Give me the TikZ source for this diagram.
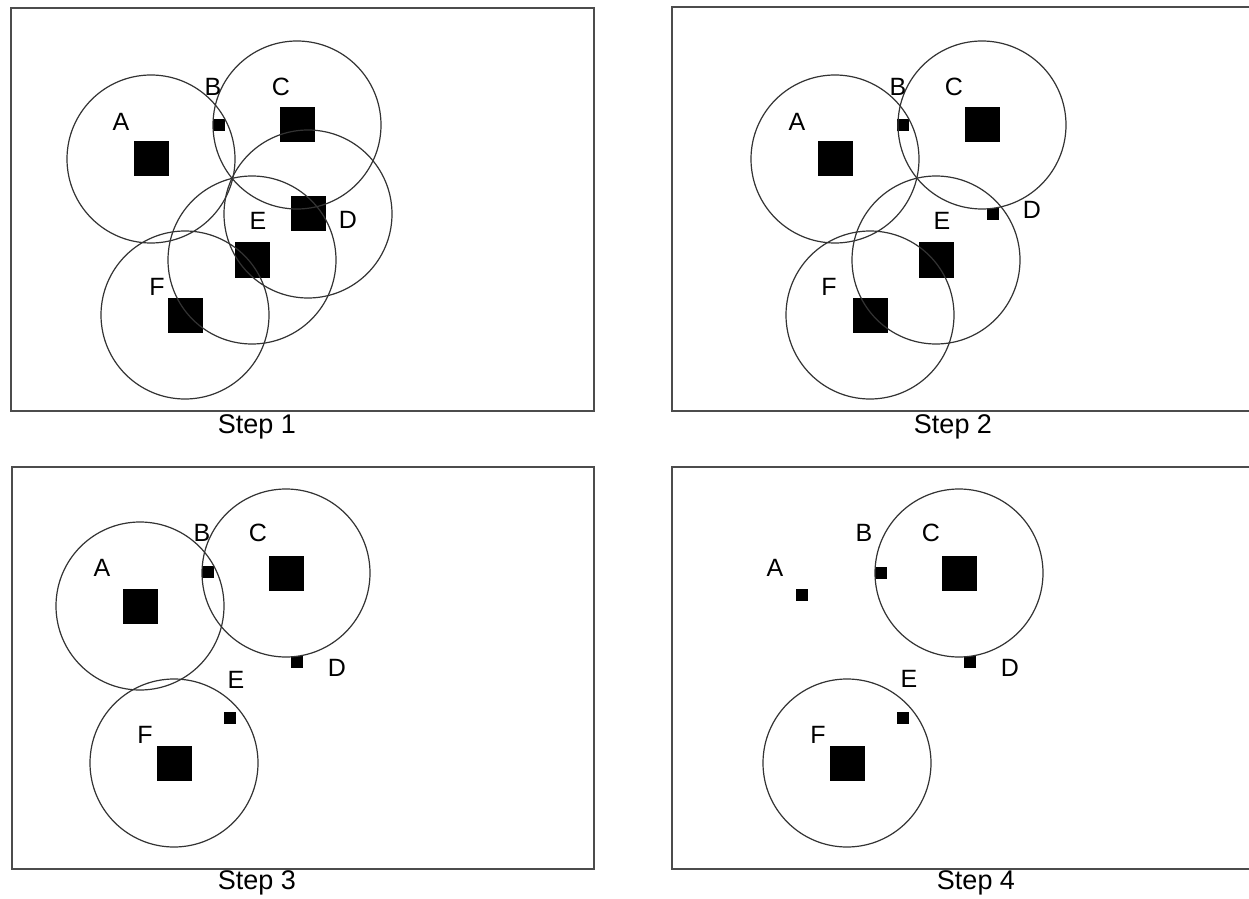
\documentclass[tikz,border=0pt]{standalone}
\usepackage{fontspec}
\setmainfont{Liberation Sans}
\usetikzlibrary{positioning}
\tikzset{x=0.5pt, y=-0.5pt, % one unit is one pixel of the picture
        bigsq/.style={ % a station that is kept
            fill=black, minimum size=17.5pt, inner sep=0pt},
        smallsq/.style={ % a station that is dropped
            fill=black, minimum size=6pt, inner sep=0pt},
        lbl/.style={inner sep=0pt, font=\fontsize{12.5}{14}\selectfont},
        steplbl/.style={inner sep=0pt, font=\fontsize{13.5}{15}\selectfont},
        reach/.style={draw=black!80, line width=0.6pt}, % coverage circle
        panel/.style={draw=black!70, line width=1pt}
        }

\begin{document}
\begin{tikzpicture}
    \useasboundingbox (0,0) rectangle (1249,899);

    % Step 1
    \draw[panel] (11,8) rectangle (594,411);
    \node[bigsq] (a1) at (151,159) {};
    \node[smallsq] (b1) at (219,125) {};
    \node[bigsq] (c1) at (297,125) {};
    \node[bigsq] (d1) at (308,214) {};
    \node[bigsq] (e1) at (252,260) {};
    \node[bigsq] (f1) at (185,315) {};
    \draw[reach] (a1.center) circle[radius=42pt];
    \draw[reach] (c1.center) circle[radius=42pt];
    \draw[reach] (d1.center) circle[radius=42pt];
    \draw[reach] (e1.center) circle[radius=42pt];
    \draw[reach] (f1.center) circle[radius=42pt];
    \node[lbl] (la1) at (121,122) {A};
    \node[lbl] (lb1) at (213,87) {B};
    \node[lbl] (lc1) at (281,87) {C};
    \node[lbl] (ld1) at (348,220) {D};
    \node[lbl] (le1) at (258,221) {E};
    \node[lbl] (lf1) at (157,287) {F};
    \node[steplbl] (s1) at (257,427) {Step 1};

    % Step 2
    \draw[panel] (672,7) rectangle (1262,411);
    \node[bigsq] (a2) at (835,159) {};
    \node[smallsq] (b2) at (903,125) {};
    \node[bigsq] (c2) at (982,125) {};
    \node[smallsq] (d2) at (993,214) {};
    \node[bigsq] (e2) at (936,260) {};
    \node[bigsq] (f2) at (870,315) {};
    \draw[reach] (a2.center) circle[radius=42pt];
    \draw[reach] (c2.center) circle[radius=42pt];
    \draw[reach] (e2.center) circle[radius=42pt];
    \draw[reach] (f2.center) circle[radius=42pt];
    \node[lbl] (la2) at (797,122) {A};
    \node[lbl] (lb2) at (898,87) {B};
    \node[lbl] (lc2) at (954,87) {C};
    \node[lbl] (ld2) at (1032,210) {D};
    \node[lbl] (le2) at (942,221) {E};
    \node[lbl] (lf2) at (829,287) {F};
    \node[steplbl] (s2) at (953,427) {Step 2};

    % Step 3
    \draw[panel] (12,467) rectangle (594,869);
    \node[bigsq] (a3) at (140,606) {};
    \node[smallsq] (b3) at (208,572) {};
    \node[bigsq] (c3) at (286,573) {};
    \node[smallsq] (d3) at (297,662) {};
    \node[smallsq] (e3) at (230,718) {};
    \node[bigsq] (f3) at (174,763) {};
    \draw[reach] (a3.center) circle[radius=42pt];
    \draw[reach] (c3.center) circle[radius=42pt];
    \draw[reach] (f3.center) circle[radius=42pt];
    \node[lbl] (la3) at (102,568) {A};
    \node[lbl] (lb3) at (202,533) {B};
    \node[lbl] (lc3) at (258,533) {C};
    \node[lbl] (ld3) at (337,668) {D};
    \node[lbl] (le3) at (236,680) {E};
    \node[lbl] (lf3) at (145,735) {F};
    \node[steplbl] (s3) at (257,883) {Step 3};

    % Step 4
    \draw[panel] (672,467) rectangle (1262,869);
    \node[smallsq] (a4) at (802,595) {};
    \node[smallsq] (b4) at (881,573) {};
    \node[bigsq] (c4) at (959,573) {};
    \node[smallsq] (d4) at (970,662) {};
    \node[smallsq] (e4) at (903,718) {};
    \node[bigsq] (f4) at (847,763) {};
    \draw[reach] (c4.center) circle[radius=42pt];
    \draw[reach] (f4.center) circle[radius=42pt];
    \node[lbl] (la4) at (775,568) {A};
    \node[lbl] (lb4) at (864,533) {B};
    \node[lbl] (lc4) at (931,533) {C};
    \node[lbl] (ld4) at (1010,668) {D};
    \node[lbl] (le4) at (909,679) {E};
    \node[lbl] (lf4) at (818,735) {F};
    \node[steplbl] (s4) at (976,883) {Step 4};
\end{tikzpicture}
\end{document}
